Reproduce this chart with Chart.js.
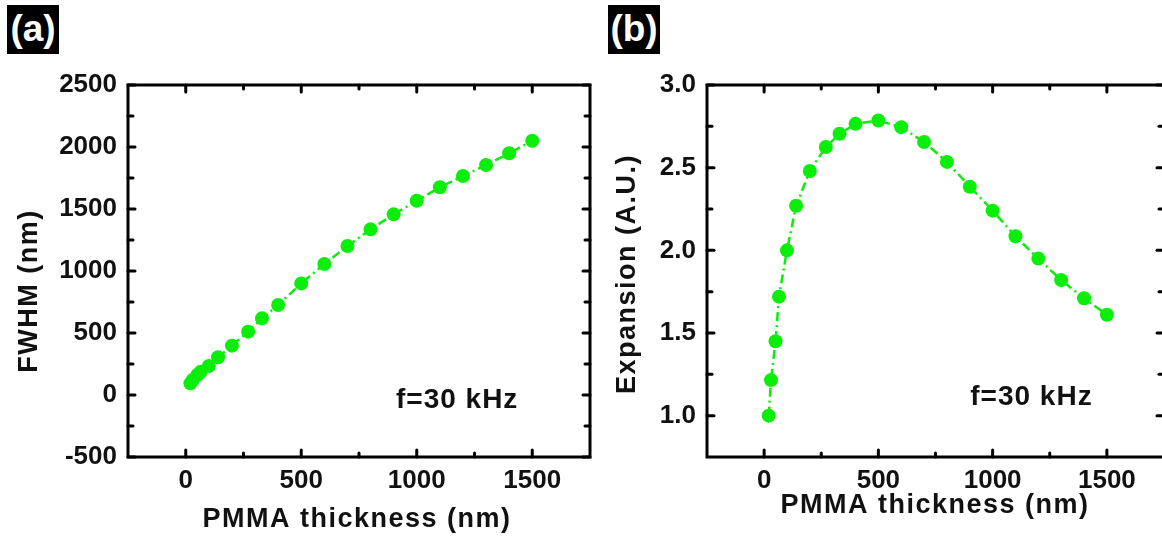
<!DOCTYPE html>
<html><head><meta charset="utf-8">
<script src="https://cdn.jsdelivr.net/npm/chart.js@4"></script>
<style>
html,body{margin:0;padding:0;width:1162px;height:537px;overflow:hidden;background:#fff;}
canvas{position:absolute;top:0;}
#ca{left:0;} #cb{left:580px;}
.tag{position:absolute;background:#000;color:#fff;font:bold 37px "Liberation Sans",Arial,sans-serif;text-align:center;line-height:48px;width:52px;height:49px;top:5px;}
</style></head>
<body>
<canvas id="ca" width="600" height="537"></canvas>
<canvas id="cb" width="600" height="537"></canvas>
<div class="tag" style="left:7px">(a)</div>
<div class="tag" style="left:608px">(b)</div>
<script>
// ---- data ----
const thickness = [20, 30, 50, 65, 100, 140, 200, 270, 330, 400, 500, 600, 700, 800, 900, 1000, 1100, 1200, 1300, 1400, 1500];
const fwhm = [94, 121, 161, 188, 234, 304, 398, 511, 618, 726, 900, 1056, 1202, 1336, 1457, 1567, 1675, 1766, 1855, 1949, 2051];
const expansion = [1.00, 1.215, 1.45, 1.72, 2.00, 2.27, 2.48, 2.625, 2.705, 2.765, 2.785, 2.745, 2.655, 2.535, 2.385, 2.24, 2.085, 1.95, 1.82, 1.71, 1.61];
const xTickLabels = [0, 500, 1000, 1500];
const xMinorTicks = [250, 750, 1250];
const fwhmTickLabels = [-500, 0, 500, 1000, 1500, 2000, 2500];
const fwhmMinorTicks = [-250, 250, 750, 1250, 1750, 2250];
const expTickLabels = [1.0, 1.5, 2.0, 2.5, 3.0];
const expMinorTicks = [1.25, 1.75, 2.25, 2.75];
const xTitle = 'PMMA thickness (nm)';
const fwhmTitle = 'FWHM (nm)';
const expTitle = 'Expansion (A.U.)';
const noteText = 'f=30 kHz';

// ---- style ----
const GREEN = 'rgb(10,238,10)';
const FAMILY = '"Liberation Sans", Arial, Helvetica, sans-serif';
const TEXT = '#111';

function framePlugin(cfg) {
  return {
    id: 'frame',
    afterDraw(chart) {
      const ctx = chart.ctx, a = chart.chartArea, xs = chart.scales.x, ys = chart.scales.y;
      ctx.save();
      ctx.strokeStyle = '#000';
      ctx.lineWidth = 3;
      ctx.lineCap = 'round';
      const seg = (x1, y1, x2, y2) => { ctx.beginPath(); ctx.moveTo(x1, y1); ctx.lineTo(x2, y2); ctx.stroke(); };
      xTickLabels.map(v => [v, 7]).concat(xMinorTicks.map(v => [v, 4])).forEach(([v, l]) => {
        const p = xs.getPixelForValue(v);
        seg(p, a.bottom, p, a.bottom - l);
        seg(p, a.top, p, a.top + l);
      });
      cfg.yMajor.map(v => [v, 7]).concat(cfg.yMinor.map(v => [v, 5])).forEach(([v, l]) => {
        const p = ys.getPixelForValue(v);
        seg(a.left, p, a.left + l, p);
        seg(a.right, p, a.right - l, p);
      });
      ctx.lineCap = 'butt';
      ctx.strokeRect(a.left, a.top, a.right - a.left, a.bottom - a.top);

      ctx.fillStyle = TEXT;
      ctx.textAlign = 'center';
      ctx.textBaseline = 'middle';
      ctx.font = 'bold 27px ' + FAMILY;
      try { ctx.letterSpacing = '1.5px'; } catch (e) {}
      ctx.fillText(xTitle, cfg.xTitlePos[0], cfg.xTitlePos[1]);
      ctx.save();
      ctx.translate(cfg.yTitlePos[0], cfg.yTitlePos[1]);
      ctx.rotate(-Math.PI / 2);
      ctx.fillText(cfg.yTitle, 0, 0);
      ctx.restore();

      ctx.font = 'bold 28px ' + FAMILY;
      try { ctx.letterSpacing = '1px'; } catch (e) {}
      ctx.fillText(noteText, xs.getPixelForValue(cfg.note[0]), ys.getPixelForValue(cfg.note[1]));
      ctx.restore();
    }
  };
}

function makeChart(id, values, cfg) {
  const tickFont = { family: FAMILY, size: 26, weight: 'bold' };
  return new Chart(document.getElementById(id), {
    type: 'line',
    data: {
      datasets: [{
        data: thickness.map((x, i) => ({ x: x, y: values[i] })),
        borderColor: GREEN,
        backgroundColor: GREEN,
        pointBackgroundColor: GREEN,
        pointBorderWidth: 0,
        pointRadius: 7,
        borderWidth: 2.5,
        borderDash: [9, 4, 2, 4],
        tension: 0,
        fill: false
      }]
    },
    options: {
      responsive: false,
      animation: false,
      events: [],
      plugins: { legend: { display: false }, tooltip: { enabled: false } },
      layout: { padding: { left: 0, top: 85, right: cfg.right, bottom: 0 } },
      scales: {
        x: {
          type: 'linear', min: -250, max: 1750,
          grid: { display: false, drawTicks: false },
          border: { display: false },
          afterBuildTicks: s => { s.ticks = xTickLabels.map(v => ({ value: v })); },
          afterFit: s => { s.height = 80; },
          ticks: { font: tickFont, color: TEXT, padding: 8, maxRotation: 0, autoSkip: false, callback: v => String(v) }
        },
        y: {
          type: 'linear', min: cfg.yMin, max: cfg.yMax,
          grid: { display: false, drawTicks: false },
          border: { display: false },
          afterBuildTicks: s => { s.ticks = cfg.yLabels.map(v => ({ value: v })); },
          afterFit: s => { s.width = cfg.yw; },
          ticks: { font: tickFont, color: TEXT, padding: 11, autoSkip: false, callback: cfg.fmt }
        }
      }
    },
    plugins: [framePlugin(cfg)]
  });
}

makeChart('ca', fwhm, {
  right: 10, yw: 128, yMin: -500, yMax: 2500,
  yLabels: fwhmTickLabels, yMajor: fwhmTickLabels, yMinor: fwhmMinorTicks,
  fmt: v => String(v),
  yTitle: fwhmTitle, xTitlePos: [357, 520], yTitlePos: [30, 291],
  note: [1175, -40]
});
makeChart('cb', expansion, {
  right: 16, yw: 127, yMin: 0.75, yMax: 3.0,
  yLabels: expTickLabels, yMajor: expTickLabels, yMinor: expMinorTicks,
  fmt: v => Number(v).toFixed(1),
  yTitle: expTitle, xTitlePos: [355, 506], yTitlePos: [48, 274],
  note: [1170, 1.11]
});
</script>
</body></html>
